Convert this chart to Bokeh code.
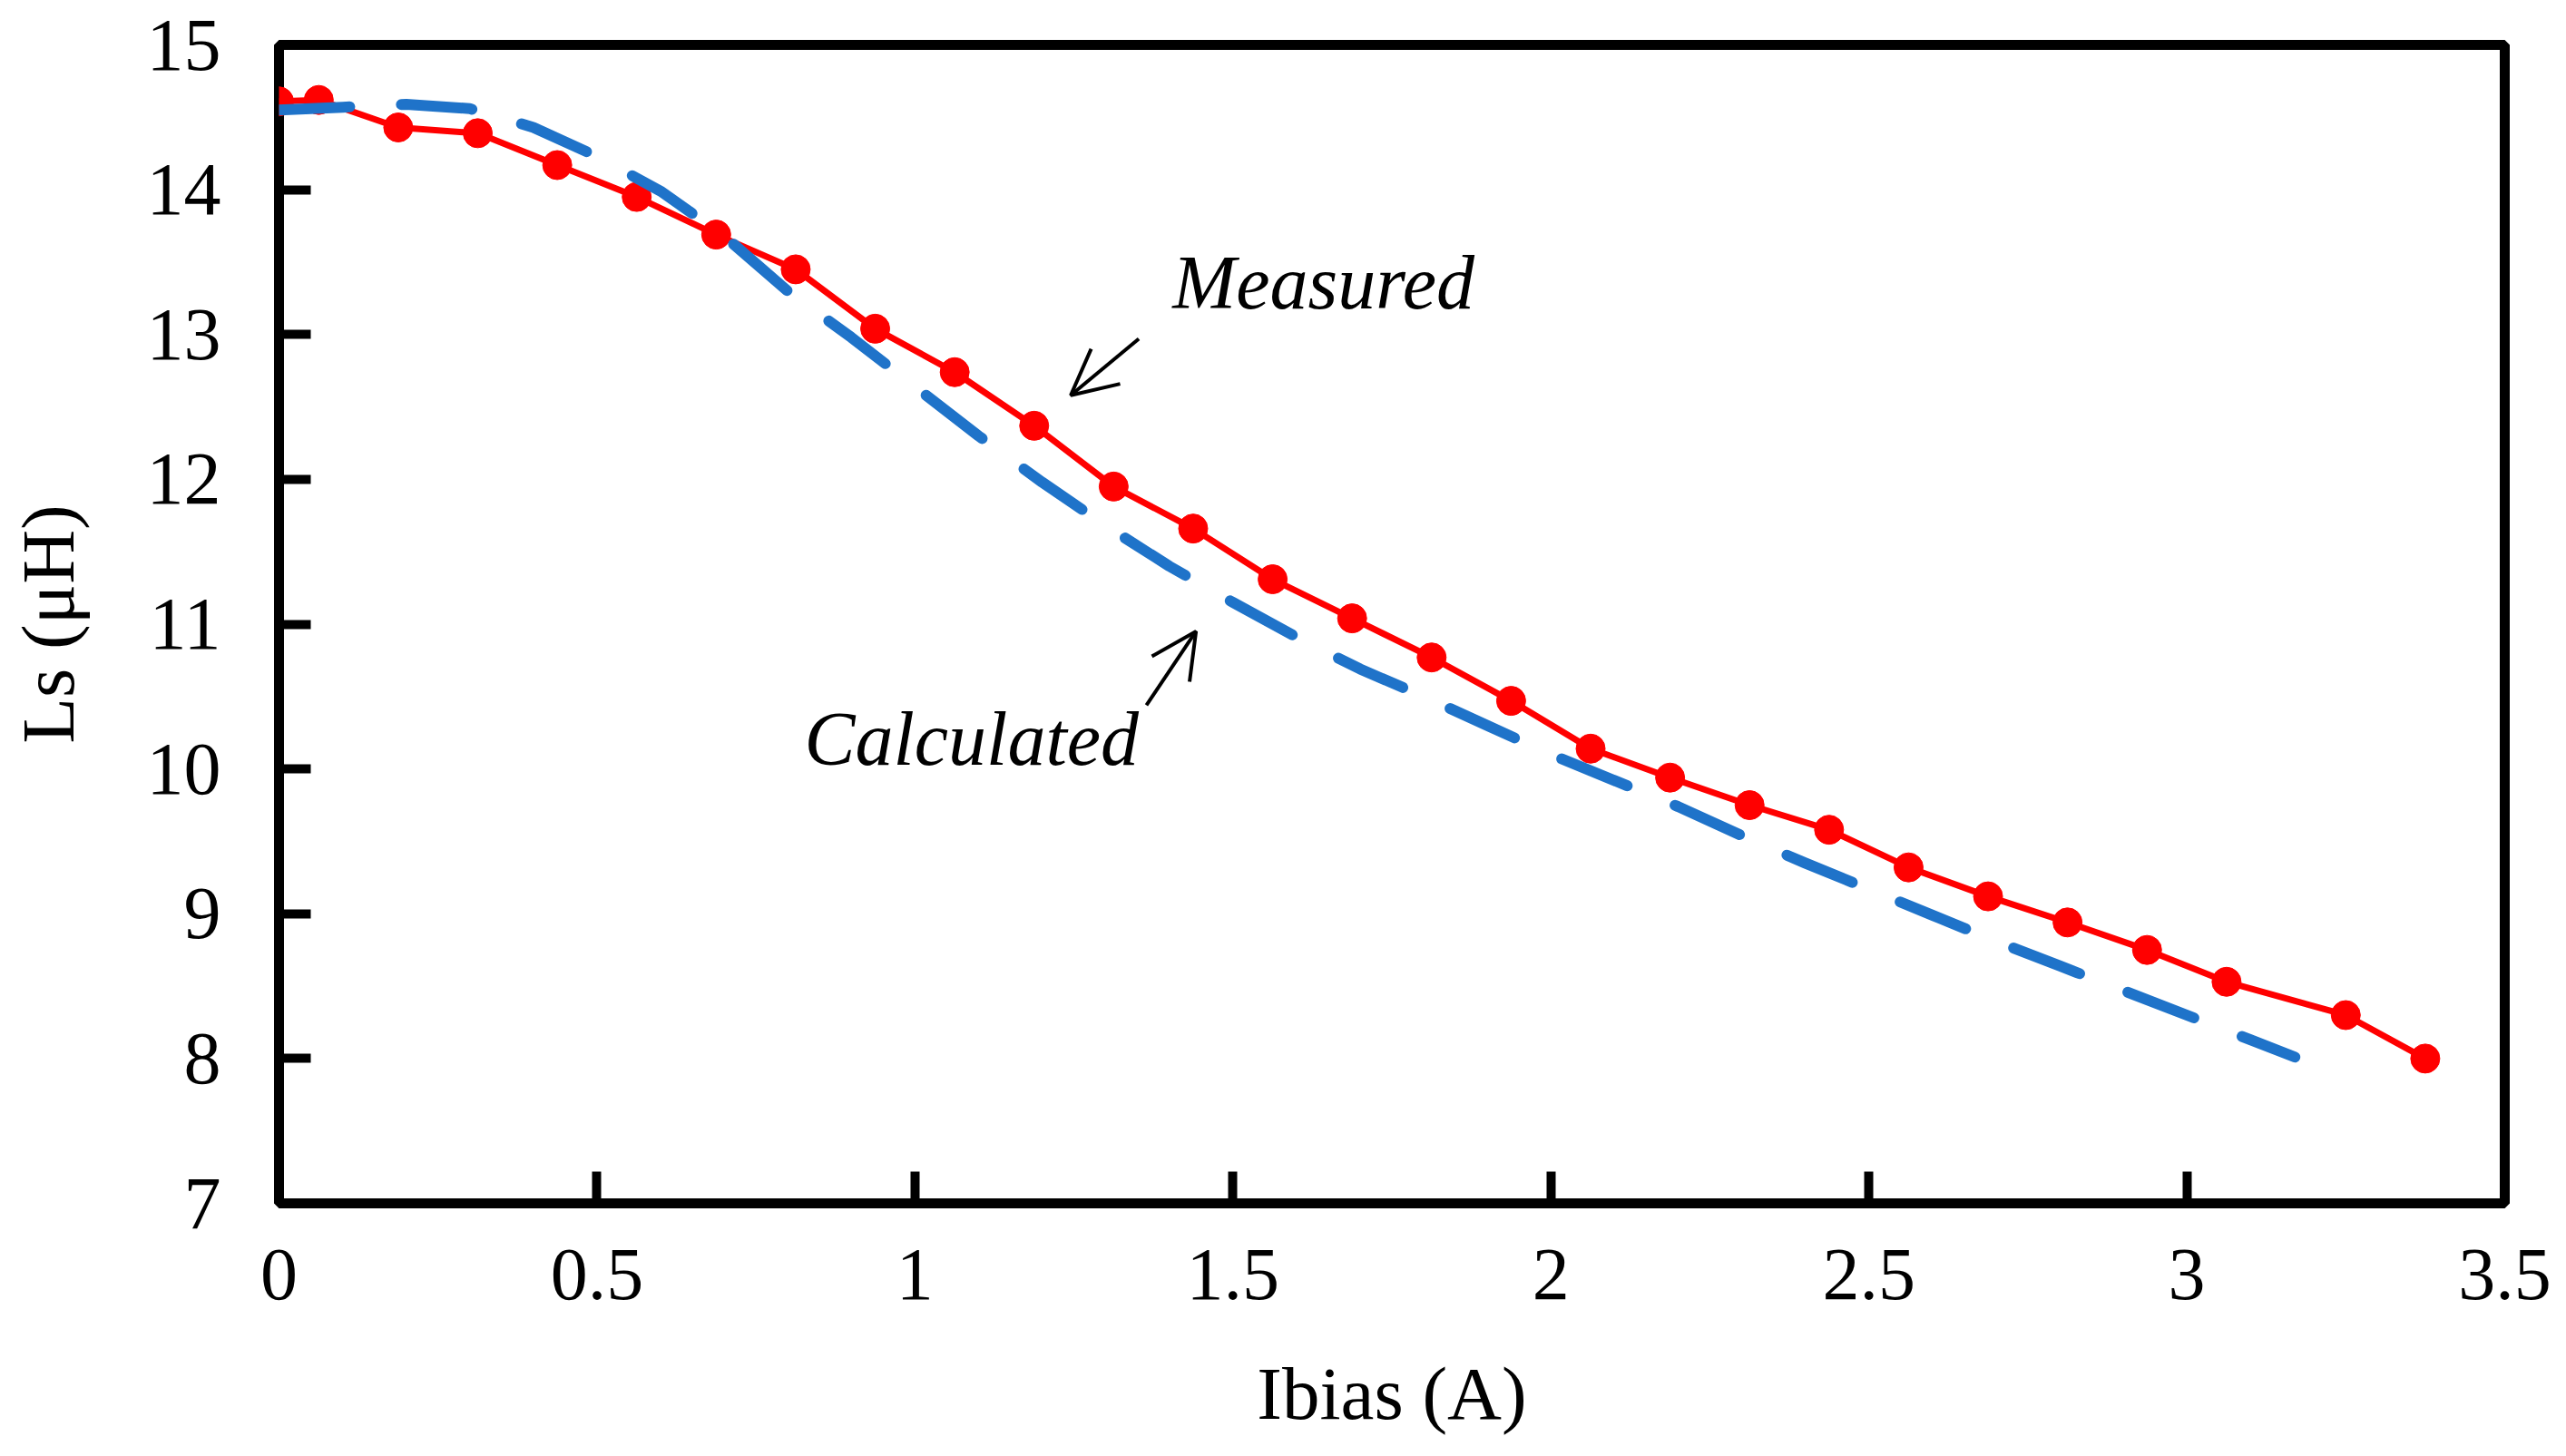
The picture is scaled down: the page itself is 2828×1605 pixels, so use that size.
from bokeh.plotting import figure
from bokeh.models import Range1d, FixedTicker, Label, Arrow, OpenHead, ColumnDataSource
from bokeh.embed import file_html
from bokeh.resources import INLINE

# ---- data ----
meas_x = [0, 0.0625, 0.1875, 0.3125, 0.4375, 0.5625, 0.6875, 0.8125, 0.9375,
          1.0625, 1.1875, 1.3125, 1.4375, 1.5625, 1.6875, 1.8125, 1.9375,
          2.0625, 2.1875, 2.3125, 2.4375, 2.5625, 2.6875, 2.8125, 2.9375,
          3.0625, 3.25, 3.375]
meas_y = [14.61, 14.62, 14.43, 14.39, 14.17, 13.95, 13.69, 13.45, 13.04,
          12.74, 12.37, 11.95, 11.66, 11.31, 11.04, 10.77, 10.47,
          10.14, 9.94, 9.75, 9.58, 9.32, 9.12, 8.94, 8.75,
          8.53, 8.30, 8.00]

calc_x = [0.0, 0.1, 0.2, 0.3, 0.4, 0.5, 0.6, 0.7, 0.8, 0.9, 1.0, 1.1, 1.2, 1.3,
          1.4, 1.5, 1.6, 1.7, 1.8, 1.9, 2.0, 2.1, 2.2, 2.3, 2.4, 2.5, 2.6, 2.7,
          2.8, 2.9, 3.0, 3.1, 3.17]
calc_y = [14.55, 14.57, 14.59, 14.56, 14.43, 14.23, 13.99, 13.68, 13.30, 12.98,
          12.64, 12.30, 11.98, 11.68, 11.40, 11.15, 10.91, 10.69, 10.50, 10.30,
          10.10, 9.92, 9.74, 9.54, 9.35, 9.17, 8.99, 8.81, 8.64, 8.47, 8.30,
          8.13, 8.01]

x_ticks = [0, 0.5, 1, 1.5, 2, 2.5, 3, 3.5]
x_tick_labels = ["0", "0.5", "1", "1.5", "2", "2.5", "3", "3.5"]
y_ticks = [7, 8, 9, 10, 11, 12, 13, 14, 15]
y_tick_labels = ["7", "8", "9", "10", "11", "12", "13", "14", "15"]

FONT = "Liberation Serif"

p = figure(width=2812, height=1589, output_backend="svg", toolbar_location=None,
           x_range=Range1d(0, 3.5), y_range=Range1d(7, 15),
           min_border_left=307, min_border_right=52,
           min_border_top=49, min_border_bottom=263)

p.background_fill_color = "white"
p.border_fill_color = "white"
p.outline_line_color = "black"
p.outline_line_width = 11
p.xgrid.visible = False
p.ygrid.visible = False

# measured (red line with markers)
src_m = ColumnDataSource(dict(x=meas_x, y=meas_y))
p.line("x", "y", source=src_m, line_color="#FF0000", line_width=7,
       line_join="round")
p.scatter("x", "y", source=src_m, size=32, fill_color="#FF0000",
          line_color="#FF0000")

# calculated (blue dashed)
src_c = ColumnDataSource(dict(x=calc_x, y=calc_y))
p.line("x", "y", source=src_c, line_color="#1F73C9", line_width=12,
       line_dash="78 57", line_cap="round", line_join="round")

# axes
for ax in (p.xaxis[0], p.yaxis[0]):
    ax.axis_line_color = None
    ax.major_tick_in = 35
    ax.major_tick_out = 0
    ax.major_tick_line_width = 10
    ax.major_tick_line_color = "black"
    ax.minor_tick_line_color = None
    ax.major_label_text_font = FONT
    ax.major_label_text_font_size = "82px"
    ax.major_label_text_color = "black"
    ax.axis_label_text_font = FONT
    ax.axis_label_text_font_size = "83px"
    ax.axis_label_text_font_style = "normal"
    ax.axis_label_text_color = "black"

p.xaxis.ticker = FixedTicker(ticks=x_ticks)
p.xaxis.major_label_overrides = {t: l for t, l in zip(x_ticks, x_tick_labels)}
p.yaxis.ticker = FixedTicker(ticks=y_ticks)
p.yaxis.major_label_overrides = {t: l for t, l in zip(y_ticks, y_tick_labels)}

p.xaxis.axis_label = "Ibias (A)"
p.yaxis.axis_label = "Ls (μH)"
p.xaxis.major_label_standoff = 51
p.xaxis.axis_label_standoff = 55
p.yaxis.major_label_standoff = 64
p.yaxis.axis_label_standoff = 60

# annotations
p.add_layout(Label(x=1.405, y=13.36, text="Measured", text_font=FONT,
                   text_font_style="italic", text_font_size="84px",
                   text_baseline="alphabetic", text_align="left",
                   text_color="black"))
p.add_layout(Label(x=0.826, y=10.21, text="Calculated", text_font=FONT,
                   text_font_style="italic", text_font_size="84px",
                   text_baseline="alphabetic", text_align="left",
                   text_color="black"))
p.add_layout(Arrow(x_start=1.352, y_start=12.97, x_end=1.245, y_end=12.58,
                   line_width=4, line_color="black",
                   end=OpenHead(size=50, line_width=4, line_color="black")))
p.add_layout(Arrow(x_start=1.364, y_start=10.44, x_end=1.442, y_end=10.95,
                   line_width=4, line_color="black",
                   end=OpenHead(size=50, line_width=4, line_color="black")))

open("out.html", "w").write(file_html(p, INLINE))
